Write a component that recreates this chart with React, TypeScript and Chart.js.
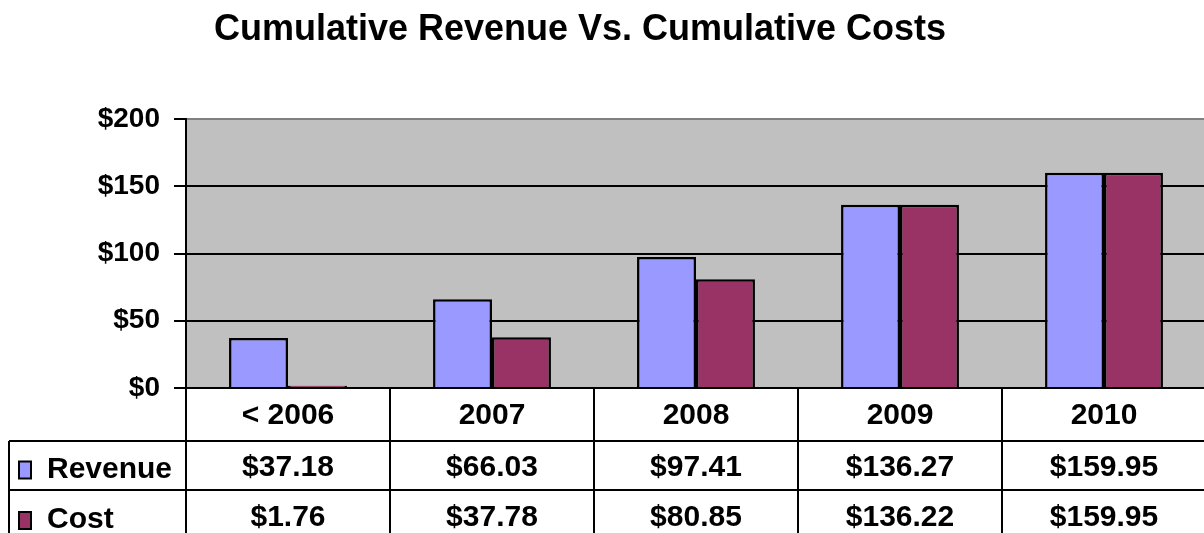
import React, { useEffect, useRef } from "react";
import { Chart, registerables } from "chart.js";

Chart.register(...registerables);

const categories = ["< 2006", "2007", "2008", "2009", "2010"];
const revenue = [37.18, 66.03, 97.41, 136.27, 159.95];
const cost = [1.76, 37.78, 80.85, 136.22, 159.95];
const revenueLabels = ["$37.18", "$66.03", "$97.41", "$136.27", "$159.95"];
const costLabels = ["$1.76", "$37.78", "$80.85", "$136.22", "$159.95"];
const seriesNames = ["Revenue", "Cost"];
const title = "Cumulative Revenue Vs. Cumulative Costs";

const REV_COLOR = "#9999FF";
const COST_COLOR = "#993366";
const FONT = '"Liberation Sans", Arial, sans-serif';

const tablePlugin = {
  id: "excelTable",
  beforeDraw(chart: any) {
    const { ctx, chartArea } = chart;
    ctx.save();
    ctx.fillStyle = "#C0C0C0";
    ctx.fillRect(chartArea.left, chartArea.top, chartArea.right - chartArea.left, chartArea.bottom - chartArea.top);
    ctx.restore();
  },
  afterDraw(chart: any) {
    const { ctx, chartArea } = chart;
    const x = chart.scales.x;
    const left = chartArea.left;
    const right = chartArea.right;
    const top = chartArea.bottom;
    const row1 = top + 53;
    const row2 = row1 + 49;
    const bottom = row2 + 52;
    const legendLeft = 9;
    const n = categories.length;
    const half = (x.getPixelForValue(1) - x.getPixelForValue(0)) / 2;

    ctx.save();
    // title
    ctx.fillStyle = "#000";
    ctx.font = `bold 36px ${FONT}`;
    ctx.textAlign = "center";
    ctx.textBaseline = "middle";
    ctx.fillText(title, 580, 30);

    ctx.strokeStyle = "#000";
    ctx.lineWidth = 2;
    ctx.beginPath();
    ctx.moveTo(left, top);
    ctx.lineTo(right, top);
    ctx.moveTo(legendLeft, row1);
    ctx.lineTo(right, row1);
    ctx.moveTo(legendLeft, row2);
    ctx.lineTo(right, row2);
    ctx.moveTo(legendLeft, row1);
    ctx.lineTo(legendLeft, bottom);
    ctx.moveTo(left, top);
    ctx.lineTo(left, bottom);
    for (let i = 0; i < n; i++) {
      const b = x.getPixelForValue(i) + half;
      ctx.moveTo(b, top);
      ctx.lineTo(b, bottom);
    }
    ctx.stroke();

    ctx.font = `bold 30px ${FONT}`;
    ctx.textAlign = "center";
    ctx.textBaseline = "middle";
    for (let i = 0; i < n; i++) {
      const cx = x.getPixelForValue(i);
      ctx.fillText(categories[i], cx, (top + row1) / 2 + 1);
      ctx.fillText(revenueLabels[i], cx, (row1 + row2) / 2 + 2);
      ctx.fillText(costLabels[i], cx, (row2 + bottom) / 2 + 2);
    }

    // legend keys
    const keys = [REV_COLOR, COST_COLOR];
    const rowsMid = [(row1 + row2) / 2, (row2 + bottom) / 2];
    ctx.textAlign = "left";
    for (let k = 0; k < 2; k++) {
      const my = rowsMid[k] + 5;
      ctx.fillStyle = keys[k];
      ctx.fillRect(19, my - 9, 12, 17);
      ctx.strokeStyle = "#000";
      ctx.lineWidth = 2;
      ctx.strokeRect(19, my - 9, 12, 17);
      ctx.fillStyle = "#000";
      ctx.fillText(seriesNames[k], 47, rowsMid[k] + 4);
    }
    ctx.restore();
  },
};

export default function App() {
  const ref = useRef<HTMLCanvasElement | null>(null);

  useEffect(() => {
    document.documentElement.style.overflow = "hidden";
    document.body.style.overflow = "hidden";
    const canvas = ref.current;
    if (!canvas) return;
    const chart = new Chart(canvas, {
      type: "bar",
      data: {
        labels: categories,
        datasets: [
          {
            label: seriesNames[0],
            data: revenue,
            backgroundColor: REV_COLOR,
            borderColor: "#000",
            borderWidth: 2.5,
            borderSkipped: "bottom",
          },
          {
            label: seriesNames[1],
            data: cost,
            backgroundColor: COST_COLOR,
            borderColor: "#000",
            borderWidth: 2.5,
            borderSkipped: "bottom",
          },
        ],
      },
      options: {
        responsive: false,
        animation: false,
        layout: { padding: { top: 119, bottom: 145, left: 0, right: 0 } },
        plugins: {
          legend: { display: false },
          title: { display: false },
          tooltip: { enabled: false },
        },
        datasets: {
          bar: { barPercentage: 1, categoryPercentage: 0.578 },
        },
        scales: {
          x: {
            display: false,
          },
          y: {
            min: 0,
            max: 200,
            afterFit(scale: any) {
              scale.width = 186;
            },
            ticks: {
              stepSize: 50,
              padding: 14,
              color: "#000",
              font: { family: FONT, size: 28, weight: "bold" },
              callback: (v: any) => "$" + v,
            },
            grid: {
              color: (c: any) => (c.tick && c.tick.value === 200 ? "#808080" : "#000"),
              lineWidth: 2,
              tickColor: "#000",
              tickLength: 12,
              tickWidth: 2,
            },
            border: { display: true, color: "#000", width: 2 },
          },
        },
      },
      plugins: [tablePlugin],
    });
    return () => chart.destroy();
  }, []);

  return (
    <div style={{ position: "fixed", left: 0, top: 0, width: 1206, height: 533 }}>
      <canvas ref={ref} width={1206} height={533} style={{ width: 1206, height: 533, display: "block" }} />
    </div>
  );
}
